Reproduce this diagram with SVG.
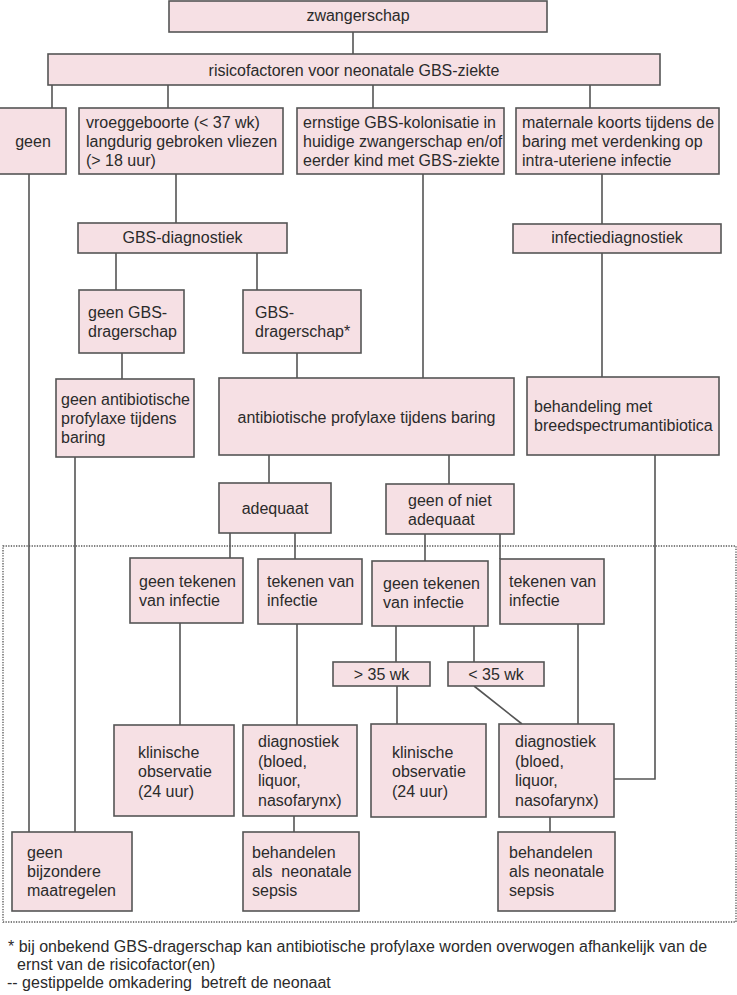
<svg xmlns="http://www.w3.org/2000/svg" width="737" height="995" viewBox="0 0 737 995">
<style>
.b{fill:#f6e0e4;stroke:#555;stroke-width:1.6}
.t{font-family:"Liberation Sans",Arial,sans-serif;font-size:16px;fill:#2b2b2b}
.c{text-anchor:middle}
.l{stroke:#555;stroke-width:1.6;fill:none}
.d{fill:none;stroke:#555;stroke-width:1.3;stroke-dasharray:1.3 1.3}
</style>
<rect width="737" height="995" fill="#fff"/>
<rect class="d" x="3" y="546" width="733" height="376"/>
<g id="connectors">
<path class="l" d="M353 32V54M52 85V108M168 85V108M373 85V108M590 85V108M29 174V832M176 174V223M423 174V378M602 174V224M116 253V290M257 253V290M122 353V379M297 353V378M75 457V832M269 455V483M449 455V484M230 533V558M295 533V559M425 534V561M500 534V559M180 623V725M297 624V725M396 626V662M474 626V662M397 686V724M474 686L522 724M578 624V724M655 455V779H614M602 253V377M294 816V832M550 817V832"/>
</g>
<g id="n1"><rect class="b" x="169" y="1" width="378" height="31"/><text class="t c" x="358" y="21">zwangerschap</text></g>
<g id="n2"><rect class="b" x="48" y="54" width="612" height="31"/><text class="t c" x="354" y="76">risicofactoren voor neonatale GBS-ziekte</text></g>
<g id="n3"><rect class="b" x="-1" y="108" width="67" height="66"/><text class="t c" x="33" y="147">geen</text></g>
<g id="n4"><rect class="b" x="79" y="108" width="204" height="66"/><text class="t" x="86" y="128">vroeggeboorte (&lt; 37 wk)<tspan x="86" y="147">langdurig gebroken vliezen</tspan><tspan x="86" y="166">(&gt; 18 uur)</tspan></text></g>
<g id="n5"><rect class="b" x="297" y="108" width="207" height="66"/><text class="t" x="303" y="128">ernstige GBS-kolonisatie in<tspan x="303" y="147">huidige zwangerschap en/of</tspan><tspan x="303" y="166">eerder kind met GBS-ziekte</tspan></text></g>
<g id="n6"><rect class="b" x="516" y="108" width="203" height="66"/><text class="t" x="522" y="128">maternale koorts tijdens de<tspan x="522" y="147">baring met verdenking op</tspan><tspan x="522" y="166">intra-uteriene infectie</tspan></text></g>
<g id="n7"><rect class="b" x="78" y="223" width="209" height="30"/><text class="t c" x="182.5" y="243">GBS-diagnostiek</text></g>
<g id="n8"><rect class="b" x="513" y="224" width="208" height="29"/><text class="t c" x="617" y="243">infectiediagnostiek</text></g>
<g id="n9"><rect class="b" x="79" y="290" width="105" height="63"/><text class="t" x="88" y="318">geen GBS-<tspan x="88" y="337">dragerschap</tspan></text></g>
<g id="n10"><rect class="b" x="243" y="290" width="118" height="63"/><text class="t" x="255" y="318">GBS-<tspan x="255" y="337">dragerschap*</tspan></text></g>
<g id="n11"><rect class="b" x="56" y="379" width="138" height="78"/><text class="t" x="61" y="405">geen antibiotische<tspan x="61" y="424">profylaxe tijdens</tspan><tspan x="61" y="443">baring</tspan></text></g>
<g id="n12"><rect class="b" x="219" y="378" width="295" height="77"/><text class="t c" x="366.5" y="423">antibiotische profylaxe tijdens baring</text></g>
<g id="n13"><rect class="b" x="527" y="377" width="192" height="78"/><text class="t" x="534" y="412">behandeling met<tspan x="534" y="431">breedspectrumantibiotica</tspan></text></g>
<g id="n14"><rect class="b" x="219" y="483" width="112" height="50"/><text class="t c" x="275" y="514">adequaat</text></g>
<g id="n15"><rect class="b" x="386" y="484" width="128" height="50"/><text class="t" x="408" y="506">geen of niet<tspan x="408" y="525">adequaat</tspan></text></g>
<g id="n16"><rect class="b" x="130" y="558" width="113" height="65"/><text class="t" x="139" y="587">geen tekenen<tspan x="139" y="606">van infectie</tspan></text></g>
<g id="n17"><rect class="b" x="258" y="559" width="104" height="65"/><text class="t" x="267" y="587">tekenen van<tspan x="267" y="606">infectie</tspan></text></g>
<g id="n18"><rect class="b" x="372" y="561" width="116" height="65"/><text class="t" x="383" y="589">geen tekenen<tspan x="383" y="608">van infectie</tspan></text></g>
<g id="n19"><rect class="b" x="500" y="559" width="104" height="65"/><text class="t" x="509" y="587">tekenen van<tspan x="509" y="606">infectie</tspan></text></g>
<g id="n20"><rect class="b" x="333" y="662" width="97" height="24"/><text class="t c" x="381.5" y="680">&gt; 35 wk</text></g>
<g id="n21"><rect class="b" x="448" y="662" width="96" height="24"/><text class="t c" x="496" y="680">&lt; 35 wk</text></g>
<g id="n22"><rect class="b" x="114" y="725" width="120" height="91"/><text class="t" x="138" y="758">klinische<tspan x="138" y="777">observatie</tspan><tspan x="138" y="797">(24 uur)</tspan></text></g>
<g id="n23"><rect class="b" x="243" y="725" width="114" height="91"/><text class="t" x="258" y="747">diagnostiek<tspan x="258" y="767">(bloed,</tspan><tspan x="258" y="786">liquor,</tspan><tspan x="258" y="806">nasofarynx)</tspan></text></g>
<g id="n24"><rect class="b" x="371" y="724" width="115" height="93"/><text class="t" x="392" y="758">klinische<tspan x="392" y="777">observatie</tspan><tspan x="392" y="797">(24 uur)</tspan></text></g>
<g id="n25"><rect class="b" x="499" y="724" width="115" height="93"/><text class="t" x="515" y="747">diagnostiek<tspan x="515" y="767">(bloed,</tspan><tspan x="515" y="786">liquor,</tspan><tspan x="515" y="806">nasofarynx)</tspan></text></g>
<g id="n26"><rect class="b" x="12" y="832" width="120" height="79"/><text class="t" x="27" y="858">geen<tspan x="27" y="877">bijzondere</tspan><tspan x="27" y="896">maatregelen</tspan></text></g>
<g id="n27"><rect class="b" x="243" y="832" width="116" height="79"/><text class="t" x="252" y="858" xml:space="preserve">behandelen<tspan x="252" y="877">als  neonatale</tspan><tspan x="252" y="896">sepsis</tspan></text></g>
<g id="n28"><rect class="b" x="498" y="832" width="117" height="79"/><text class="t" x="509" y="858">behandelen<tspan x="509" y="877">als neonatale</tspan><tspan x="509" y="896">sepsis</tspan></text></g>
<g id="notes">
<text class="t" x="8" y="952">* bij onbekend GBS-dragerschap kan antibiotische profylaxe worden overwogen afhankelijk van de</text>
<text class="t" x="17" y="970">ernst van de risicofactor(en)</text>
<text class="t" x="7" y="988" xml:space="preserve">-- gestippelde omkadering  betreft de neonaat</text>
</g>
</svg>
